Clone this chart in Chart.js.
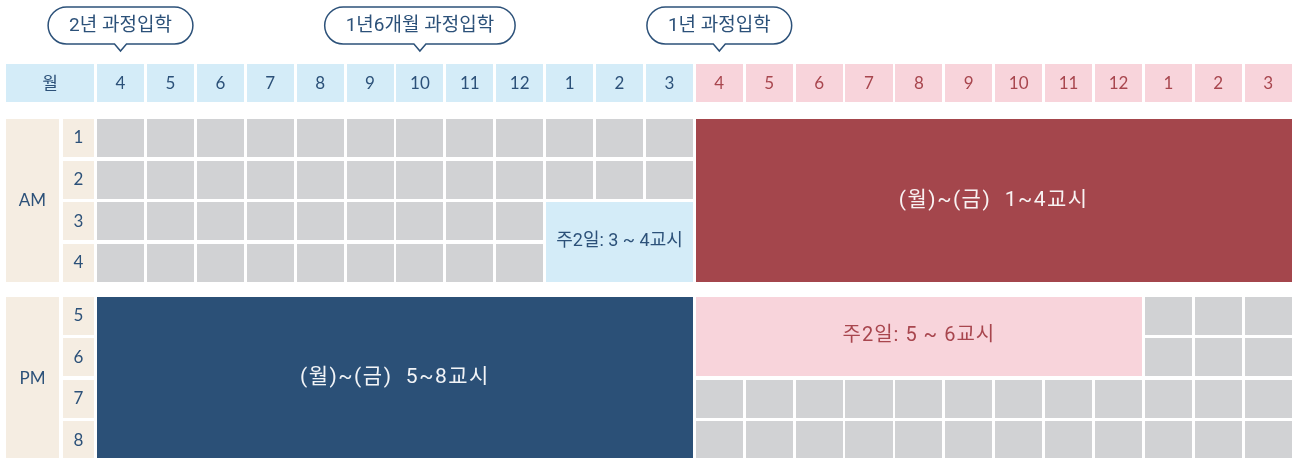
<!DOCTYPE html>
<html>
<head>
<meta charset="utf-8">
<script src="https://cdn.jsdelivr.net/npm/chart.js@4.4.1/dist/chart.umd.min.js"></script>
<style>
    html, body { margin: 0; padding: 0; background: #fff; }
    canvas { display: block; }
</style>
</head>
<body>
<canvas id="grafico-horario" width="1292" height="458"></canvas>
<script>
// dados do quadro de horarios
var meses = ['4', '5', '6', '7', '8', '9', '10', '11', '12', '1', '2', '3',
             '4', '5', '6', '7', '8', '9', '10', '11', '12', '1', '2', '3'];
var anoDoMes = [0, 0, 0, 0, 0, 0, 0, 0, 0, 0, 0, 0, 1, 1, 1, 1, 1, 1, 1, 1, 1, 1, 1, 1];
var periodos = ['1', '2', '3', '4', '5', '6', '7', '8'];
var turnos = ['AM', 'PM'];
var turnoPeriodos = [[1, 4], [5, 8]];
var cabecalho = '월';

// blocos mesclados: colunas (indice do mes) e periodos
var blocoTextos = ['(월)~(금)  1~4교시', '주2일: 3 ~ 4교시', '(월)~(금)  5~8교시', '주2일: 5 ~ 6교시'];
var blocoColunas = [[12, 23], [9, 11], [0, 11], [12, 20]];
var blocoPeriodos = [[1, 4], [3, 4], [5, 8], [5, 6]];

// entradas (balões)
var entradaTextos = ['2년 과정입학', '1년6개월 과정입학', '1년 과정입학'];
var entradaColunas = [0, 6, 12];

// estilos
var azul = '#2c5179';
var vermelho = '#a8464e';
var corBloco = ['#a4464c', '#d4ecf8', '#2b5077', '#f8d4db'];
var corTextoBloco = ['#f8f2f2', azul, '#f2f4f7', vermelho];
var tamTextoBloco = [21, 18, 21, 20];
var espTextoBloco = ['1.5px', '0px', '1.5px', '1px'];
var corCabecalho = ['#d4ecf8', '#f8d4db'];
var corTextoCabecalho = [azul, vermelho];
var cinza = '#d1d2d4';
var bege = '#f5ede2';

var LARG = 0.942;     // largura da celula (em colunas)
var ALT = 0.913;      // altura da celula (em linhas)
var GAP_PM = 0.27;
var CAB_Y = -1.322, CAB_ALT = 0.906;
var COL_TURNO = [-1.824, -0.764], COL_PER = [-0.681, -0.060];
var fonteNum = '17px Lato, "Noto Sans CJK KR", sans-serif';
var fonteKr = 'Roboto, "Noto Sans CJK KR", sans-serif';

function topoPeriodo(p) {
    return (p - 1) + (p >= 5 ? GAP_PM : 0);
}

function cobertoPorBloco(c, p) {
    for (var b = 0; b < blocoColunas.length; b++) {
        if (c >= blocoColunas[b][0] && c <= blocoColunas[b][1] &&
            p >= blocoPeriodos[b][0] && p <= blocoPeriodos[b][1]) return true;
    }
    return false;
}

var quadroPlugin = {
    id: 'quadro',
    afterDraw: function (chart) {
        var ctx = chart.ctx;
        var sx = chart.scales.x, sy = chart.scales.y;

        function ret(x0, x1, y0, y1, cor) {
            var a = sx.getPixelForValue(x0), b = sx.getPixelForValue(x1);
            var c = sy.getPixelForValue(y0), d = sy.getPixelForValue(y1);
            ctx.fillStyle = cor;
            ctx.fillRect(Math.round(a), Math.round(c), Math.round(b) - Math.round(a), Math.round(d) - Math.round(c));
        }
        function texto(t, x, y, cor, fonte, esp) {
            ctx.fillStyle = cor;
            ctx.font = fonte;
            ctx.letterSpacing = esp || '0px';
            ctx.textAlign = 'center';
            ctx.textBaseline = 'middle';
            ctx.fillText(t, sx.getPixelForValue(x), sy.getPixelForValue(y));
        }

        ctx.save();

        // cabecalho
        ret(COL_TURNO[0], COL_PER[1], CAB_Y, CAB_Y + CAB_ALT, corCabecalho[0]);
        texto(cabecalho, (COL_TURNO[0] + COL_PER[1]) / 2, CAB_Y + CAB_ALT / 2, azul, '17px "Noto Sans CJK KR"');
        meses.forEach(function (m, i) {
            var k = anoDoMes[i];
            ret(i, i + LARG, CAB_Y, CAB_Y + CAB_ALT, corCabecalho[k]);
            texto(m, i + LARG / 2, CAB_Y + CAB_ALT / 2 + 0.01, corTextoCabecalho[k], fonteNum);
        });

        // turnos e periodos
        turnos.forEach(function (t, i) {
            var y0 = topoPeriodo(turnoPeriodos[i][0]);
            var y1 = topoPeriodo(turnoPeriodos[i][1]) + ALT;
            ret(COL_TURNO[0], COL_TURNO[1], y0, y1, bege);
            texto(t, (COL_TURNO[0] + COL_TURNO[1]) / 2, (y0 + y1) / 2, azul, fonteNum);
        });
        periodos.forEach(function (p, i) {
            var y0 = topoPeriodo(i + 1);
            ret(COL_PER[0], COL_PER[1], y0, y0 + ALT, bege);
            texto(p, (COL_PER[0] + COL_PER[1]) / 2, y0 + ALT / 2, azul, fonteNum);
        });

        // celulas cinza
        meses.forEach(function (m, c) {
            periodos.forEach(function (p, i) {
                if (cobertoPorBloco(c, i + 1)) return;
                var y0 = topoPeriodo(i + 1);
                ret(c, c + LARG, y0, y0 + ALT, cinza);
            });
        });

        // blocos
        blocoTextos.forEach(function (t, b) {
            var x0 = blocoColunas[b][0], x1 = blocoColunas[b][1] + LARG;
            var y0 = topoPeriodo(blocoPeriodos[b][0]), y1 = topoPeriodo(blocoPeriodos[b][1]) + ALT;
            ret(x0, x1, y0, y1, corBloco[b]);
            texto(t, (x0 + x1) / 2, (y0 + y1) / 2, corTextoBloco[b], tamTextoBloco[b] + 'px ' + fonteKr,
                espTextoBloco[b]);
        });

        // baloes
        ctx.font = '19px ' + fonteKr;
        ctx.letterSpacing = '0px';
        entradaTextos.forEach(function (t, i) {
            var cx = sx.getPixelForValue(entradaColunas[i] + LARG / 2);
            var topo = sy.getPixelForValue(-2.692), base = sy.getPixelForValue(-1.803);
            var w = ctx.measureText(t).width + 42, h = base - topo, r = h / 2;
            var x0 = cx - w / 2, x1 = cx + w / 2;
            ctx.beginPath();
            ctx.moveTo(x0 + r, topo);
            ctx.lineTo(x1 - r, topo);
            ctx.arc(x1 - r, topo + r, r, -Math.PI / 2, Math.PI / 2);
            ctx.lineTo(cx + 6, base);
            ctx.lineTo(cx, base + 7);
            ctx.lineTo(cx - 6, base);
            ctx.lineTo(x0 + r, base);
            ctx.arc(x0 + r, topo + r, r, Math.PI / 2, Math.PI * 1.5);
            ctx.closePath();
            ctx.fillStyle = '#fff';
            ctx.fill();
            ctx.lineWidth = 1.5;
            ctx.strokeStyle = azul;
            ctx.stroke();
            ctx.fillStyle = azul;
            ctx.textAlign = 'center';
            ctx.textBaseline = 'middle';
            ctx.fillText(t, cx, (topo + base) / 2 + 1);
        });

        ctx.restore();
    }
};

var ctx = document.getElementById('grafico-horario').getContext('2d');
var meuGrafico = new Chart(ctx, {
    type: 'scatter',
    data: {
        datasets: [{ data: [] }]
    },
    options: {
        responsive: false,
        animation: false,
        layout: { padding: 0 },
        plugins: {
            legend: { display: false },
            tooltip: { enabled: false }
        },
        scales: {
            x: { type: 'linear', display: false, min: -1.944, max: 23.948 },
            y: { type: 'linear', display: false, min: -2.861, max: 8.149, reverse: true }
        }
    },
    plugins: [quadroPlugin]
});
</script>
</body>
</html>
